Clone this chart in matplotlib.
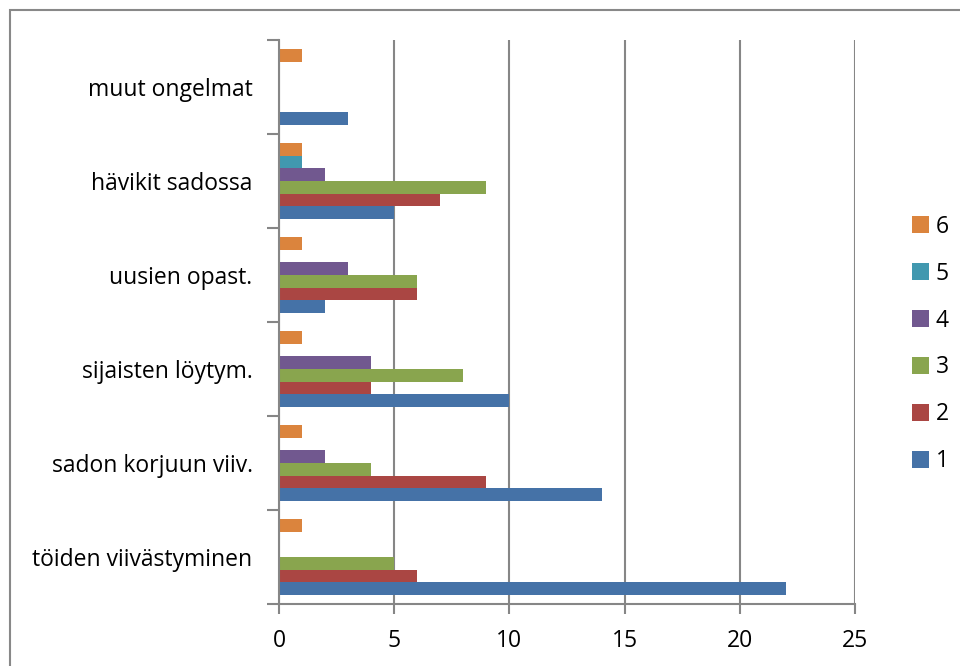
import numpy as np
import matplotlib.pyplot as plt
from matplotlib.patches import Rectangle

plt.rcParams['font.family'] = ['Open Sans', 'DejaVu Sans']

categories = ['töiden viivästyminen', 'sadon korjuun viiv.', 'sijaisten löytym.',
              'uusien opast.', 'hävikit sadossa', 'muut ongelmat']
series_names = ['1', '2', '3', '4', '5', '6']
s1 = [22, 14, 10, 2, 5, 3]
s2 = [6, 9, 4, 6, 7, 0]
s3 = [5, 4, 8, 6, 9, 0]
s4 = [0, 2, 4, 3, 2, 0]
s5 = [0, 0, 0, 0, 1, 0]
s6 = [1, 1, 1, 1, 1, 1]
series = [s1, s2, s3, s4, s5, s6]
colors = ['#4572A7', '#AA4643', '#89A54E', '#71588F', '#4198AF', '#DB843D']

fig = plt.figure(figsize=(9.6, 6.66), dpi=100)
ax = fig.add_axes([279/960, 62/666, 576/960, 564/666])

n = len(series)
h = 0.133
y = np.arange(len(categories))
for i, (vals, c) in enumerate(zip(series, colors)):
    ax.barh(y + (i - (n - 1) / 2) * h, vals, height=h, color=c,
            label=series_names[i], zorder=2)

ax.set_xlim(0, 25)
ax.set_ylim(-0.5, len(categories) - 0.5)
ax.set_xticks(range(0, 26, 5))
ax.grid(axis='x', color='#868686', linewidth=1.5, zorder=0)
ax.set_axisbelow(True)

# category boundaries as tick marks, labels on the minor ticks at centres
ax.set_yticks(np.arange(-0.5, len(categories), 1))
ax.set_yticklabels([])
ax.set_yticks(y, minor=True)
ax.set_yticklabels(categories, minor=True)
ax.tick_params(axis='y', which='major', length=9, width=1.5, color='#868686')
ax.tick_params(axis='y', which='minor', length=0, pad=19, labelsize=16.5)
ax.tick_params(axis='x', length=7, width=1.5, color='#868686', pad=11, labelsize=16.5)

for side in ['top', 'right']:
    ax.spines[side].set_visible(False)
for side in ['left', 'bottom']:
    ax.spines[side].set_color('#868686')
    ax.spines[side].set_linewidth(1.5)

handles, labels = ax.get_legend_handles_labels()
fig.legend(handles[::-1], labels[::-1], loc='center left',
           bbox_to_anchor=(891/960, 1 - 344/666), frameon=False,
           fontsize=16.5, handlelength=0.75, handleheight=0.75,
           handletextpad=0.3, labelspacing=1.0)

fig.patches.append(Rectangle((10/960, -0.1), 1.2, 1.1 - 10/666,
                             transform=fig.transFigure, fill=False,
                             edgecolor='#888888', linewidth=1.5))

fig.savefig('out.png', dpi=100)
